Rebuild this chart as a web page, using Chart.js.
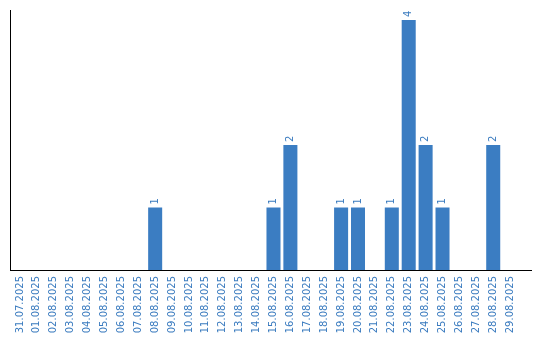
<!DOCTYPE html>
<html><head><meta charset="utf-8">
<script src="https://cdn.jsdelivr.net/npm/chart.js@4/dist/chart.umd.min.js"></script>
<style>html,body{margin:0;padding:0;background:#fff}#w{width:540px;height:340px}</style>
</head><body><div id="w"><canvas id="c"></canvas></div>
<script>
const categories = ["31.07.2025","01.08.2025","02.08.2025","03.08.2025","04.08.2025","05.08.2025","06.08.2025","07.08.2025","08.08.2025","09.08.2025","10.08.2025","11.08.2025","12.08.2025","13.08.2025","14.08.2025","15.08.2025","16.08.2025","17.08.2025","18.08.2025","19.08.2025","20.08.2025","21.08.2025","22.08.2025","23.08.2025","24.08.2025","25.08.2025","26.08.2025","27.08.2025","28.08.2025","29.08.2025"];
const counts = [0,0,0,0,0,0,0,0,1,0,0,0,0,0,0,1,2,0,0,1,1,0,1,4,2,1,0,0,2,0];
const barColor = "#3b7dc2";
const textColor = "#3a7bbf";

const points = counts.map((v, i) => ({ x: i, y: v }));

const valueLabels = {
  id: "valueLabels",
  afterDatasetsDraw(chart) {
    const ctx = chart.ctx;
    const meta = chart.getDatasetMeta(0);
    ctx.save();
    ctx.fillStyle = textColor;
    ctx.font = "10px 'DejaVu Sans'";
    ctx.textAlign = "left";
    ctx.textBaseline = "middle";
    meta.data.forEach((bar, i) => {
      const v = counts[i];
      if (!v) return;
      ctx.save();
      ctx.translate(bar.x, bar.y - 3);
      ctx.rotate(-Math.PI / 2);
      ctx.fillText(String(v), 0, 0);
      ctx.restore();
    });
    ctx.restore();
  }
};

new Chart(document.getElementById("c"), {
  type: "bar",
  data: { datasets: [{ data: points, backgroundColor: barColor, borderWidth: 0, barPercentage: 0.83, categoryPercentage: 1 }] },
  options: {
    responsive: true, maintainAspectRatio: false, animation: false,
    layout: { padding: { left: 10, top: 10, right: 9, bottom: 0 } },
    plugins: { legend: { display: false }, tooltip: { enabled: false } },
    scales: {
      x: {
        type: "linear",
        offset: false,
        min: -0.588, max: 30.235,
        grid: { display: false, drawTicks: false, offset: false },
        border: { display: true, color: "#000", width: 1 },
        afterBuildTicks(s) { s.ticks = categories.map((_, i) => ({ value: i })); },
        ticks: {
          color: textColor, font: { family: "'DejaVu Sans'", size: 10 },
          minRotation: 90, maxRotation: 90, padding: 6, autoSkip: false,
          callback: (v) => categories[v] ?? ""
        },
        afterFit(s) { s.height = 70; s.paddingLeft = 0; s.paddingRight = 0; }
      },
      y: {
        min: 0, max: 4.16,
        grid: { display: false, drawTicks: false },
        border: { display: true, color: "#000", width: 1 },
        ticks: { display: false },
        afterFit(s) { s.width = 0; s.paddingTop = 0; s.paddingBottom = 0; }
      }
    }
  },
  plugins: [valueLabels]
});
</script></body></html>
